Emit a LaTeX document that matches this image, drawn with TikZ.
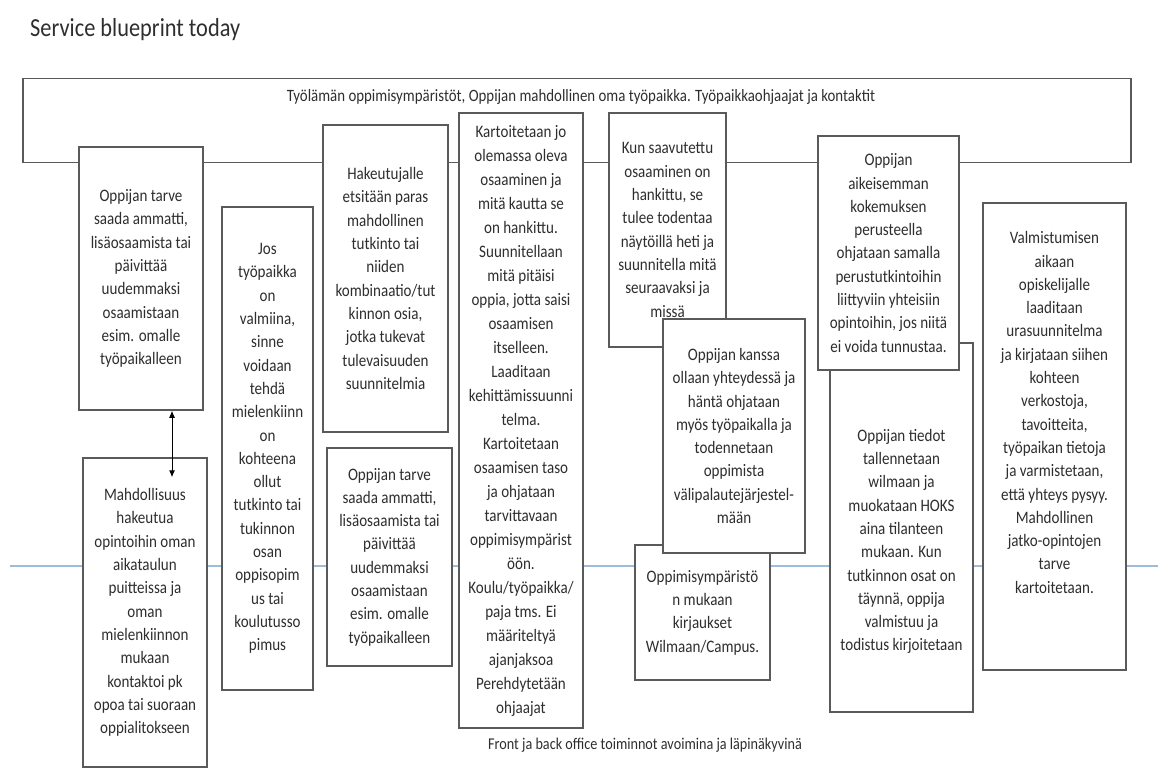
\documentclass[tikz,border=0pt]{standalone}
\usepackage{fontspec}
\setmainfont[FakeStretch=0.86]{Carlito}
\usetikzlibrary{arrows.meta}
\definecolor{bk60}{HTML}{5A5A5A}
\definecolor{bk80}{HTML}{2E2E2E}
\definecolor{sky}{HTML}{9DBBDB}

\begin{document}
\begin{tikzpicture}[x=1pt, y=-1pt,
  card/.style={draw=bk60, line width=1.5pt, fill=white, align=center,
    text=bk80, inner sep=0pt, font=\fontsize{17.5}{23.3}\selectfont},
  frame/.style={draw=bk60, line width=1.5pt, inner sep=0pt},
  note/.style={text=bk80, inner sep=0pt},
  dbl/.style={{Latex[length=7pt,width=6pt]}-{Latex[length=7pt,width=6pt]}, line width=1pt, black}]
  \useasboundingbox (0,0) rectangle (1158,775);

  % Title
  \node[anchor=base west, text=bk80, inner sep=0pt, font=\fontsize{26}{30}\selectfont]
    (title) at (30,37) {Service blueprint today};

  % Work life frame at the top
  \node[frame, anchor=north west, minimum width=1108, minimum height=84] (worklife) at (22,78) {};
  \node[note, anchor=base, font=\fontsize{17.3}{20}\selectfont] (worklifetxt) at (581,102)
    {Työlämän oppimisympäristöt, Oppijan mahdollinen oma työpaikka. Työpaikkaohjaajat ja kontaktit};

  % Line of visibility
  \draw[sky, line width=1.4pt] (10,566) -- (1158,566);

  % Cards, left to right
  \node[card, minimum width=124, minimum height=263] (needA) at (141,278.5)
    {Oppijan tarve\\saada ammatti,\\lisäosaamista tai\\päivittää\\uudemmaksi\\osaamistaan\\esim. omalle\\työpaikalleen};
  \node[card, minimum width=124, minimum height=309] (chance) at (145,612.5)
    {Mahdollisuus\\hakeutua\\opintoihin oman\\aikataulun\\puitteissa ja\\oman\\mielenkiinnon\\mukaan\\kontaktoi pk\\opoa tai suoraan\\oppialitokseen};
  \node[card, minimum width=91, minimum height=483] (jobready) at (267.5,448.5)
    {Jos\\työpaikka\\on\\valmiina,\\sinne\\voidaan\\tehdä\\mielenkiinn\\on\\kohteena\\ollut\\tutkinto tai\\tukinnon\\osan\\oppisopim\\us tai\\koulutusso\\pimus};
  \node[card, minimum width=125, minimum height=307] (search) at (385.5,278.5)
    {Hakeutujalle\\etsitään paras\\mahdollinen\\tutkinto tai\\niiden\\kombinaatio/tut\\kinnon osia,\\jotka tukevat\\tulevaisuuden\\suunnitelmia};
  \node[card, minimum width=125, minimum height=218] (needB) at (389.5,557)
    {Oppijan tarve\\saada ammatti,\\lisäosaamista tai\\päivittää\\uudemmaksi\\osaamistaan\\esim. omalle\\työpaikalleen};
  \node[card, minimum width=124, minimum height=615, font=\fontsize{17.5}{24}\selectfont] (mapping) at (521,420.5)
    {Kartoitetaan jo\\olemassa oleva\\osaaminen ja\\mitä kautta se\\on hankittu.\\Suunnitellaan\\mitä pitäisi\\oppia, jotta saisi\\osaamisen\\itselleen.\\Laaditaan\\kehittämissuunni\\telma.\\Kartoitetaan\\osaamisen taso\\ja ohjataan\\tarvittavaan\\oppimisympärist\\öön.\\Koulu/työpaikka/\\paja tms. Ei\\määriteltyä\\ajanjaksoa\\Perehdytetään\\ohjaajat};
  \node[card, minimum width=117, minimum height=234] (proof) at (667.5,230)
    {Kun saavutettu\\osaaminen on\\hankittu, se\\tulee todentaa\\näytöillä heti ja\\suunnitella mitä\\seuraavaksi ja\\missä};
  \node[card, minimum width=135, minimum height=135] (records) at (702.5,612.5)
    {Oppimisympäristö\\n mukaan\\kirjaukset\\Wilmaan/Campus.};
  \node[card, minimum width=142, minimum height=234] (contact) at (734,436)
    {Oppijan kanssa\\ollaan yhteydessä ja\\häntä ohjataan\\myös työpaikalla ja\\todennetaan\\oppimista\\välipalautejärjestel-\\mään};
  \node[card, minimum width=143, minimum height=369] (graduate) at (901.5,527.5) {};
  \node[card, draw=none, fill=none] (graduatetxt) at ([yshift=-14pt]graduate.center)
    {Oppijan tiedot\\tallennetaan\\wilmaan ja\\muokataan HOKS\\aina tilanteen\\mukaan. Kun\\tutkinnon osat on\\täynnä, oppija\\valmistuu ja\\todistus kirjoitetaan};
  \node[card, minimum width=141, minimum height=234] (prior) at (888.5,253)
    {Oppijan\\aikeisemman\\kokemuksen\\perusteella\\ohjataan samalla\\perustutkintoihin\\liittyviin yhteisiin\\opintoihin, jos niitä\\ei voida tunnustaa.};
  \node[card, minimum width=143, minimum height=467] (career) at (1054.5,436.5) {};
  \node[card, draw=none, fill=none] (careertxt) at ([yshift=24pt]career.center)
    {Valmistumisen\\aikaan\\opiskelijalle\\laaditaan\\urasuunnitelma\\ja kirjataan siihen\\kohteen\\verkostoja,\\tavoitteita,\\työpaikan tietoja\\ja varmistetaan,\\että yhteys pysyy.\\Mahdollinen\\jatko-opintojen\\tarve\\kartoitetaan.};

  % Link between need and chance
  \draw[dbl] ([xshift=31pt]needA.south) -- ([xshift=27pt, yshift=-20pt]chance.north);

  % Bottom note
  \node[note, anchor=base, font=\fontsize{16.5}{19}\selectfont] (office) at (645,749)
    {Front ja back office toiminnot avoimina ja läpinäkyvinä};

\end{tikzpicture}
\end{document}
